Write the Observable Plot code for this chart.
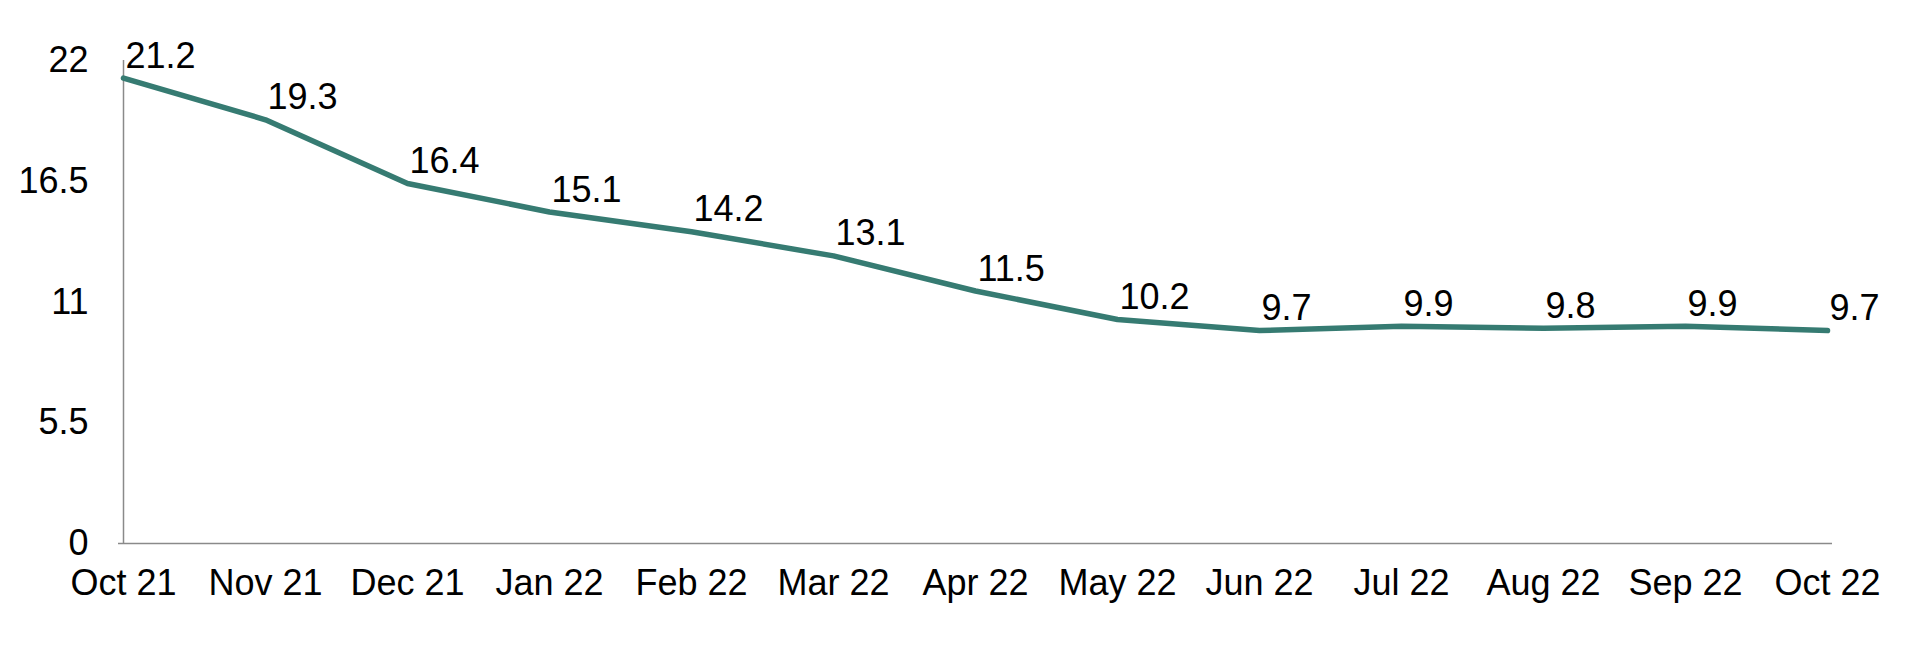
<!DOCTYPE html>
<html>
<head>
<meta charset="utf-8">
<script src="https://cdn.jsdelivr.net/npm/d3@7"></script>
<script src="https://cdn.jsdelivr.net/npm/@observablehq/plot@0.6"></script>
<style>
  html, body { margin: 0; padding: 0; background: #ffffff; }
  #chart svg { display: block; }
</style>
</head>
<body>
<div id="chart"></div>
<script>
const months = ["Oct 21", "Nov 21", "Dec 21", "Jan 22", "Feb 22", "Mar 22", "Apr 22", "May 22", "Jun 22", "Jul 22", "Aug 22", "Sep 22", "Oct 22"];
const values = [21.2, 19.3, 16.4, 15.1, 14.2, 13.1, 11.5, 10.2, 9.7, 9.9, 9.8, 9.9, 9.7];
const yTicks = [0, 5.5, 11, 16.5, 22];

const data = months.map((m, i) => ({month: m, value: values[i]}));

const chart = Plot.plot({
  width: 1928,
  height: 648,
  marginLeft: 118,
  marginRight: 96,
  marginTop: 60,
  marginBottom: 105,
  style: {
    fontFamily: "'Liberation Sans', Arial, Helvetica, sans-serif",
    fontSize: "36px",
    color: "#000000",
    background: "#ffffff"
  },
  x: {type: "point", domain: months, padding: 0, label: null},
  y: {domain: [0, 22], label: null},
  marks: [
    Plot.axisX({ticks: months, tickSize: 0, tickPadding: 26, fontSize: 36, label: null}),
    Plot.axisY({ticks: yTicks, tickFormat: d => String(d), tickSize: 0, tickPadding: 30, fontSize: 36, label: null}),
    Plot.ruleY([0], {stroke: "#8a8a8a", strokeWidth: 1.5}),
    Plot.ruleX([months[0]], {y1: 0, y2: 22, stroke: "#8a8a8a", strokeWidth: 1.5}),
    Plot.line(data, {x: "month", y: "value", stroke: "#367b72", strokeWidth: 5.5, strokeLinejoin: "round"}),
    Plot.text(data, {x: "month", y: "value", text: d => d.value.toFixed(1), textAnchor: "start", dx: 2, dy: -22, fontSize: 36, fill: "#000000"})
  ]
});
document.getElementById("chart").appendChild(chart);
</script>
</body>
</html>
